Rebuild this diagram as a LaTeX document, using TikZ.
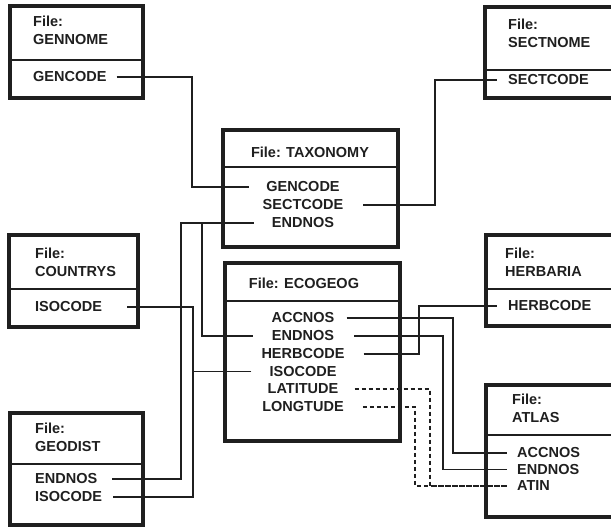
\documentclass[tikz,border=0pt]{standalone}
\usepackage{fontspec}
\setmainfont{Liberation Sans}
\begin{document}
\begin{tikzpicture}[x=1pt,y=-1pt,
  box/.style={draw=black!88, line width=3.3pt},
  divider/.style={draw=black!88, line width=1.8pt},
  conn/.style={draw=black!88, line width=1.8pt},
  dconn/.style={draw=black!88, line width=1.1pt, dash pattern=on 4pt off 3pt},
  txtb/.style={font=\fontsize{14.5}{18}\selectfont\bfseries, text=black!88, inner sep=0pt},
  lt/.style={txtb, anchor=west, align=left},
  ct/.style={txtb, anchor=center}]
\useasboundingbox (0,0) rectangle (611,527);
\clip (0,0) rectangle (611,527);

% GENNOME
\draw[box] (10,6) rectangle (143,98);
\draw[divider] (10,60) -- (143,60);
\node[lt] (gnt) at (33,30) {File:\\GENNOME};
\node[lt] (gngc) at (33,77) {GENCODE};

% SECTNOME
\draw[box] (485,7) rectangle (630,98);
\draw[divider] (485,70) -- (630,70);
\node[lt] (snt) at (508,33) {File:\\SECTNOME};
\node[lt] (snsc) at (508,80) {SECTCODE};

% TAXONOMY
\draw[box] (223,130) rectangle (398,247);
\draw[divider] (223,167) -- (398,167);
\node[ct] (txh) at (310,152) {File: TAXONOMY};
\node[ct] (txgc) at (303,187) {GENCODE};
\node[ct] (txsc) at (303,205) {SECTCODE};
\node[ct] (txen) at (303,223) {ENDNOS};

% COUNTRYS
\draw[box] (9,235) rectangle (138,327);
\draw[divider] (9,289) -- (138,289);
\node[lt] (ctt) at (35,262) {File:\\COUNTRYS};
\node[lt] (ctiso) at (35,307) {ISOCODE};

% ECOGEOG
\draw[box] (225,263) rectangle (400,441);
\draw[divider] (225,301) -- (400,301);
\node[ct] (egh) at (304,283) {File: ECOGEOG};
\node[ct] (egacc) at (303,318) {ACCNOS};
\node[ct] (egen) at (303,336) {ENDNOS};
\node[ct] (egherb) at (303,354) {HERBCODE};
\node[ct] (egiso) at (303,371.5) {ISOCODE};
\node[ct] (eglat) at (303,389) {LATITUDE};
\node[ct] (eglon) at (303,407) {LONGTUDE};

% HERBARIA
\draw[box] (486,235) rectangle (630,326);
\draw[divider] (486,289) -- (630,289);
\node[lt] (hbt) at (505,262) {File:\\HERBARIA};
\node[lt] (hbherb) at (508,306) {HERBCODE};

% GEODIST
\draw[box] (10,413) rectangle (143,525);
\draw[divider] (10,464) -- (143,464);
\node[lt] (gdt) at (35,437) {File:\\GEODIST};
\node[lt] (gden) at (35,479) {ENDNOS};
\node[lt] (gdiso) at (35,497) {ISOCODE};

% ATLAS
\draw[box] (486,385) rectangle (630,517);
\draw[divider] (486,435) -- (630,435);
\node[lt] (att) at (512,408.5) {File:\\ATLAS};
\node[lt] (atacc) at (517,453) {ACCNOS};
\node[lt] (aten) at (517,469.5) {ENDNOS};
\node[lt] (atatin) at (517,486) {ATIN};

% channels
\coordinate (cGen) at (192,0);
\coordinate (cSect) at (435,0);
\coordinate (cEndA) at (181,0);
\coordinate (cEndB) at (202,0);
\coordinate (cIso) at (193,0);
\coordinate (cHerb) at (419,0);
\coordinate (cAcc) at (453,0);
\coordinate (cEndR) at (443,0);
\coordinate (cLat) at (430,0);
\coordinate (cLon) at (415,0);

% connectors
\draw[conn] ([xshift=10pt]gngc.east) -- (gngc.east -| cGen) |- ([xshift=-17pt]txgc.west);
\draw[conn] ([xshift=20pt]txsc.east) -- (txsc.east -| cSect) |- ([xshift=-11pt]snsc.west);
\draw[conn] ([xshift=-18pt]txen.west) -- (txen.west -| cEndA) |- ([xshift=15pt]gden.east);
\draw[conn] (txen.west -| cEndB) |- ([xshift=-19pt]egen.west);
\draw[conn] ([xshift=25pt]ctiso.east) -- (ctiso.east -| cIso) |- ([xshift=11pt]gdiso.east);
\draw[conn] ([xshift=-18pt]egiso.west) -- (egiso.west -| cIso);
\draw[conn] ([xshift=19pt]egherb.east) -- (egherb.east -| cHerb) |- ([xshift=-11pt]hbherb.west);
\draw[conn] ([xshift=12pt]egacc.east) -- (egacc.east -| cAcc) |- ([xshift=-10pt]atacc.west);
\draw[conn] ([xshift=20pt]egen.east) -- (egen.east -| cEndR) |- ([xshift=-10pt]aten.west);
\draw[dconn] ([xshift=16pt]eglat.east) -- (eglat.east -| cLat) |- ([xshift=-10pt]atatin.west);
\draw[dconn] ([xshift=19pt]eglon.east) -- (eglon.east -| cLon) |- ([xshift=-10pt]atatin.west);
\end{tikzpicture}
\end{document}
